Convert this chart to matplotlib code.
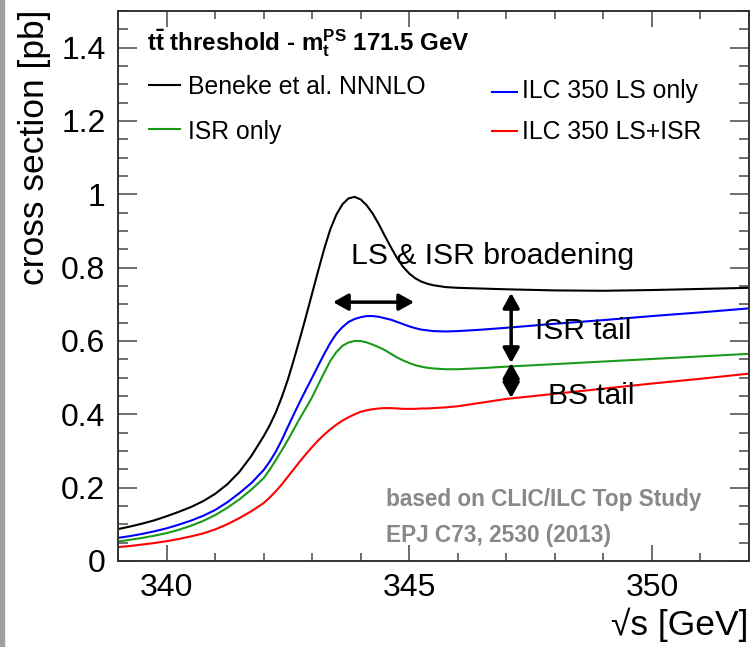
import matplotlib
matplotlib.use("Agg")
import matplotlib.pyplot as plt
from matplotlib.ticker import MultipleLocator, FuncFormatter
from matplotlib.patches import Rectangle

plt.rcParams['font.family'] = ['Liberation Sans', 'DejaVu Sans']
plt.rcParams['mathtext.fontset'] = 'custom'
plt.rcParams['mathtext.rm'] = 'Liberation Sans'
plt.rcParams['mathtext.bf'] = 'Liberation Sans:bold'
plt.rcParams['mathtext.it'] = 'Liberation Sans:italic'

# ---- data ----
sqrt_s = [339.0, 339.25, 339.5, 339.75, 340.0, 340.25, 340.5, 340.75, 341.0, 341.25, 341.5, 341.75,
          342.0, 342.125, 342.25, 342.375, 342.5, 342.625, 342.75, 342.875,
          343.0, 343.125, 343.25, 343.375, 343.5, 343.625, 343.75, 343.875,
          344.0, 344.125, 344.25, 344.375, 344.5, 344.625, 344.75, 344.875,
          345.0, 345.125, 345.25, 345.375, 345.5,
          345.75, 346.0, 346.5, 347.0, 348.0, 349.0, 350.0, 351.0, 352.0]

xs_nnnlo = [0.087, 0.094, 0.102, 0.111, 0.122, 0.134, 0.147, 0.163, 0.183, 0.209, 0.243, 0.287,
            0.340, 0.370, 0.405, 0.447, 0.495, 0.550, 0.608, 0.668,
            0.730, 0.792, 0.852, 0.905, 0.945, 0.973, 0.989, 0.993,
            0.986, 0.970, 0.947, 0.918, 0.886, 0.855, 0.826, 0.802,
            0.784, 0.771, 0.762, 0.756, 0.752,
            0.747, 0.745, 0.743, 0.741, 0.738, 0.737, 0.739, 0.742, 0.745]

xs_ls = [0.063, 0.068, 0.074, 0.081, 0.089, 0.099, 0.110, 0.123, 0.139, 0.160, 0.185, 0.213,
         0.248, 0.271, 0.298, 0.330, 0.366, 0.401, 0.435, 0.468,
         0.500, 0.533, 0.565, 0.595, 0.620, 0.638, 0.652, 0.660,
         0.665, 0.668, 0.668, 0.666, 0.662, 0.658, 0.652, 0.646,
         0.640, 0.635, 0.631, 0.629, 0.627,
         0.626, 0.627, 0.631, 0.636, 0.647, 0.657, 0.668, 0.678, 0.689]

xs_isr = [0.053, 0.058, 0.063, 0.069, 0.076, 0.085, 0.096, 0.109, 0.125, 0.145, 0.168, 0.195,
          0.226, 0.249, 0.275, 0.302, 0.330, 0.360, 0.390, 0.418,
          0.447, 0.481, 0.514, 0.546, 0.570, 0.587, 0.596, 0.600,
          0.600, 0.596, 0.590, 0.583, 0.575, 0.565, 0.555, 0.547,
          0.540, 0.534, 0.530, 0.527, 0.525,
          0.523, 0.523, 0.526, 0.530, 0.537, 0.544, 0.551, 0.558, 0.565]

xs_ls_isr = [0.038, 0.041, 0.045, 0.049, 0.054, 0.060, 0.067, 0.075, 0.086, 0.100, 0.117, 0.136,
             0.158, 0.173, 0.190, 0.209, 0.230, 0.251, 0.272, 0.292,
             0.311, 0.329, 0.345, 0.359, 0.372, 0.383, 0.392, 0.400,
             0.407, 0.411, 0.414, 0.416, 0.417, 0.417, 0.416, 0.415,
             0.415, 0.415, 0.416, 0.416, 0.417,
             0.419, 0.422, 0.432, 0.442, 0.456, 0.470, 0.484, 0.497, 0.511]

labels = ["Beneke et al. NNNLO", "ISR only", "ILC 350 LS only", "ILC 350 LS+ISR"]
colors = ["black", "#1a9a1a", "#0000ff", "#ff0000"]

fig = plt.figure(figsize=(7.53, 6.47), dpi=100)
ax = fig.add_axes([118/753, 1 - 561/647, 631/753, 550/647])

ax.plot(sqrt_s, xs_nnnlo, color=colors[0], lw=1.5)
ax.plot(sqrt_s, xs_ls, color=colors[2], lw=1.5)
ax.plot(sqrt_s, xs_isr, color=colors[1], lw=1.5)
ax.plot(sqrt_s, xs_ls_isr, color=colors[3], lw=1.5)

ax.set_xlim(339, 352)
ax.set_ylim(0, 1.5)
ax.xaxis.set_major_locator(MultipleLocator(5))
ax.xaxis.set_minor_locator(MultipleLocator(1))
ax.yaxis.set_major_locator(MultipleLocator(0.2))
ax.yaxis.set_minor_locator(MultipleLocator(0.05))
ax.yaxis.set_major_formatter(FuncFormatter(lambda v, p: ("%g" % round(v, 2))))
ax.tick_params(which='both', direction='in', top=True, right=True, color='#555555', width=1.2,
               labelsize=23)
ax.tick_params(axis='y', which='major', length=13.5, pad=9)
ax.tick_params(axis='y', which='minor', length=7)
ax.tick_params(axis='x', which='major', length=11.5, pad=9)
ax.tick_params(axis='x', which='minor', length=6)
for s in ax.spines.values():
    s.set_linewidth(1.4)
    s.set_color('#333333')

# axis titles
fig.text(35/753, 1 - 10/647, "cross section [pb]", rotation=90, ha='center', va='top', fontsize=25.5)
fig.text(748/753, 1 - 625/647, "√s [GeV]", ha='right', va='center', fontsize=25.5)

# grey strip at left
fig.patches.append(Rectangle((0, 0), 4/753, 1, transform=fig.transFigure, color='#a0a0a0', zorder=0))

# header & legend
ax.text(0.046, 0.928, r"t$\mathbf{\bar{t}}$ threshold - m$_{\mathbf{t}}^{\mathbf{PS}}$ 171.5 GeV",
        transform=ax.transAxes, fontsize=17.4, fontweight='bold', va='baseline', ha='left')
leg = [(0.049, 0.098, 0.865, 0.111, 0.849),
       (0.049, 0.098, 0.785, 0.111, 0.768),
       (0.593, 0.632, 0.853, 0.640, 0.841),
       (0.593, 0.632, 0.782, 0.640, 0.767)]
for (x0, x1, yl, xt, yt), lab, c in zip(leg, labels, colors):
    ax.plot([x0, x1], [yl, yl], color=c, lw=1.5, transform=ax.transAxes)
    ax.text(xt, yt, lab, transform=ax.transAxes, fontsize=17.8, va='baseline', ha='left')

# annotations
ax.text(343.80, 0.81, "LS & ISR broadening", fontsize=21.7, va='baseline', ha='left')
ax.text(347.6, 0.605, "ISR tail", fontsize=21.5, va='baseline', ha='left')
ax.text(347.86, 0.428, "BS tail", fontsize=21.5, va='baseline', ha='left')
arrow = dict(arrowstyle='<|-|>,head_length=0.9,head_width=0.5', color='black', lw=2.5,
             shrinkA=0, shrinkB=0)
ax.annotate("", xy=(343.43, 0.706), xytext=(345.1, 0.706), arrowprops=arrow)
ax.annotate("", xy=(347.1, 0.731), xytext=(347.1, 0.54), arrowprops=arrow)
ax.annotate("", xy=(347.1, 0.54), xytext=(347.1, 0.445), arrowprops=arrow)

ax.text(344.52, 0.15, "based on CLIC/ILC Top Study", fontsize=16.3, fontweight='bold',
        color='#888888', va='baseline', ha='left')
ax.text(344.52, 0.053, "EPJ C73, 2530 (2013)", fontsize=16.3, fontweight='bold',
        color='#888888', va='baseline', ha='left')

fig.savefig("out.png", dpi=100)
